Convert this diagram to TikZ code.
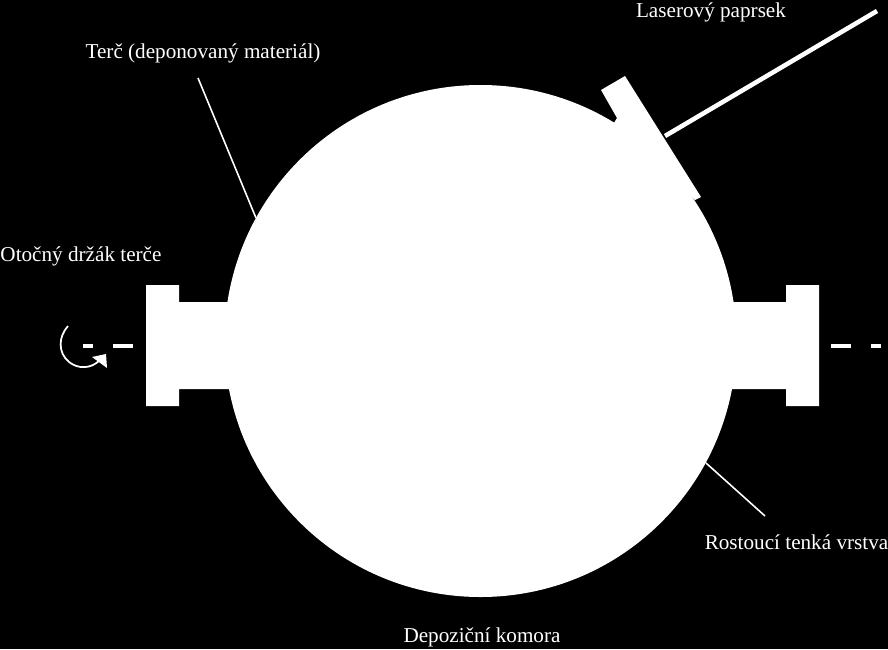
\documentclass[tikz,border=0pt]{standalone}
\usepackage{fontspec}
\setmainfont{Liberation Serif}
\usetikzlibrary{arrows.meta}
\tikzset{
  popis/.style={text=white, inner sep=0pt, font=\fontsize{12.05pt}{14pt}\selectfont},
  vodic/.style={white, line width=0.9pt},
  osa/.style={white, line width=2pt},
  telo/.style={fill=white, draw=none}
}
\begin{document}
\begin{tikzpicture}[x=0.02cm, y=-0.02cm, line width=0.8pt]
  \fill[black] (0,0) rectangle (888,649);
  \useasboundingbox (0,0) rectangle (888,649);
  % komora a priruby
  \fill[telo] (480.5,341) circle (256);
  \fill[telo] (146,285)--(179,285)--(179,302)--(240,302)--(240,389)--(179,389)--(179,406)--(146,406)--cycle;
  \fill[telo] (819,285)--(786,285)--(786,302)--(725,302)--(725,389)--(786,389)--(786,406)--(819,406)--cycle;
  % terc nahore
  \fill[telo] (601,90)--(625,76)--(701,197)--(695,200)--(640,150)--(612,126)--(617,118)--cycle;
  % laser
  \coordinate (laserA) at (665,136);
  \coordinate (laserB) at (877,11);
  \draw[white, line width=2.6pt] (laserA)--(laserB);
  % osa otaceni
  \coordinate (osaL1) at (83,346);  \coordinate (osaL2) at (93,346);
  \coordinate (osaL3) at (113,346); \coordinate (osaL4) at (133,346);
  \coordinate (osaP1) at (831,346); \coordinate (osaP2) at (851,346);
  \coordinate (osaP3) at (871,346); \coordinate (osaP4) at (881,346);
  \draw[osa] (osaL1)--(osaL2); \draw[osa] (osaL3)--(osaL4);
  \draw[osa] (osaP1)--(osaP2); \draw[osa] (osaP3)--(osaP4);
  % sipka rotace
  \draw[white, line width=1pt] (68,326) .. controls (58,337) and (58,353) .. (69,362) .. controls (78,369) and (90,369) .. (99,361);
  \fill[white] (92,357)--(106,354)--(107,368)--cycle;
  % popisky
  \node[popis] (terc) at (203,53.5) {Terč (deponovaný materiál)};
  \node[popis] (laser) at (711,12.5) {Laserový paprsek};
  \node[popis] (drzak) at (81,256.5) {Otočný držák terče};
  \node[popis] (vrstva) at (796.5,542) {Rostoucí tenká vrstva};
  \node[popis] (komora) at (482,637.5) {Depoziční komora};
  % odkazy
  \coordinate (tercA) at (198,78);
  \coordinate (tercB) at (256,218);
  \coordinate (vrstvaA) at (706,463);
  \coordinate (vrstvaB) at (765,516);
  \draw[vodic] (tercA)--(tercB);
  \draw[vodic] (vrstvaA)--(vrstvaB);
\end{tikzpicture}
\end{document}
